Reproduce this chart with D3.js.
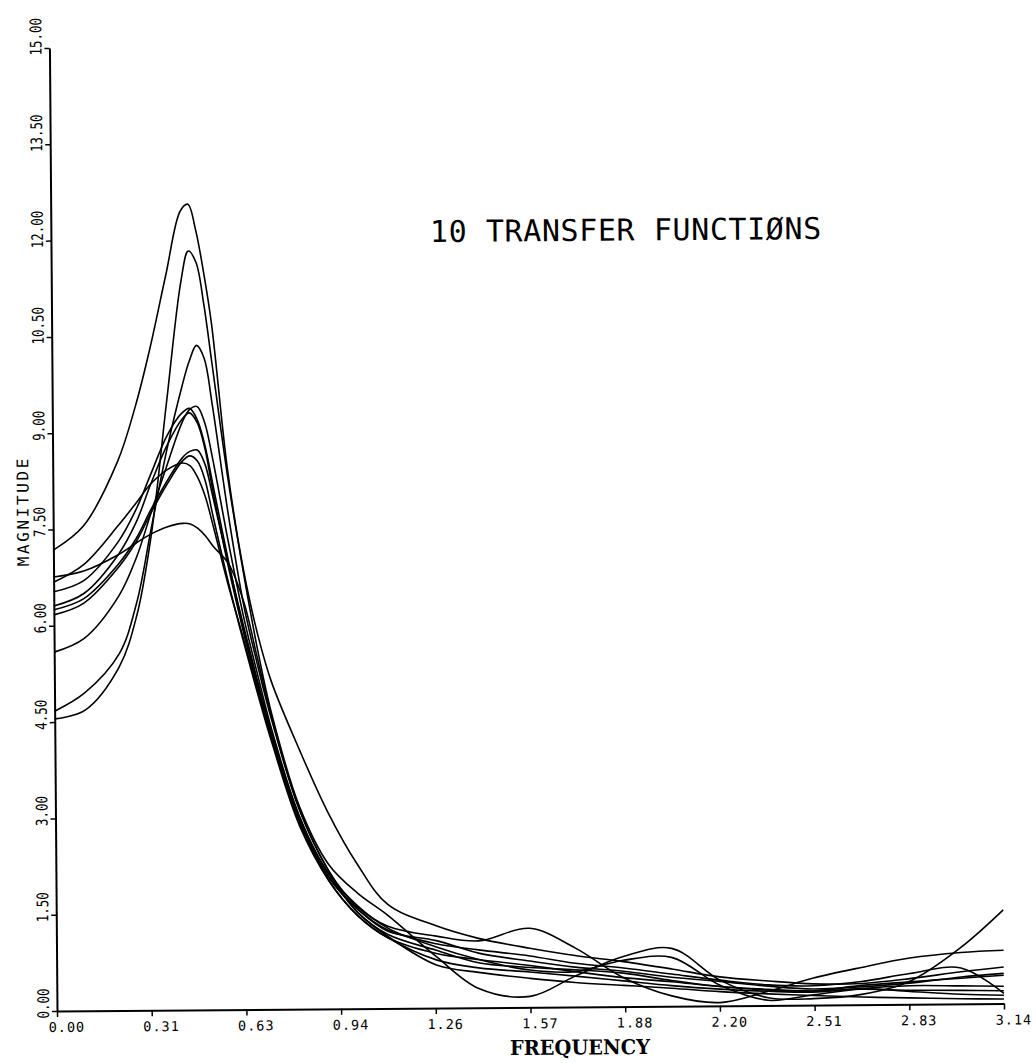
<!DOCTYPE html>
<html>
<head>
<meta charset="utf-8">
<script src="https://cdn.jsdelivr.net/npm/d3@7"></script>
<style>
  html, body { margin: 0; padding: 0; background: #fff; }
  svg { display: block; }
</style>
</head>
<body>
<script>
// ---------- data ----------
const freq = [0, 0.1, 0.215, 0.275, 0.325, 0.38, 0.43, 0.455, 0.48, 0.505, 0.53, 0.58, 0.63, 0.675, 0.72, 0.81, 0.905, 1.0, 1.1, 1.26, 1.4, 1.57, 1.72, 1.88, 2.04, 2.2, 2.36, 2.51, 2.67, 2.83, 3.0, 3.14159];

const tf1  = [7.18, 7.55, 8.55, 9.40, 10.30, 11.45, 12.45, 12.55, 12.15, 11.50, 10.70, 8.40, 6.85, 5.85, 5.10, 4.05, 3.05, 2.25, 1.62, 1.28, 1.08, 0.92, 0.80, 0.70, 0.58, 0.45, 0.38, 0.33, 0.33, 0.40, 0.50, 0.57];
const tf2  = [4.55, 4.68, 5.35, 6.15, 7.40, 9.50, 11.35, 11.82, 11.65, 11.00, 10.10, 8.30, 6.80, 5.60, 4.60, 3.15, 2.25, 1.80, 1.45, 0.80, 0.30, 0.17, 0.48, 0.78, 0.90, 0.40, 0.12, 0.10, 0.16, 0.36, 0.88, 1.46];
const tf3  = [4.67, 4.95, 5.55, 6.35, 7.50, 8.75, 9.70, 10.10, 10.35, 10.15, 9.45, 7.75, 6.30, 5.35, 4.50, 3.10, 2.15, 1.58, 1.28, 1.12, 1.04, 1.23, 0.92, 0.45, 0.16, 0.05, 0.22, 0.42, 0.58, 0.72, 0.80, 0.83];
const tf4  = [5.59, 5.80, 6.45, 7.05, 7.75, 8.50, 9.15, 9.35, 9.40, 9.15, 8.60, 7.30, 6.10, 5.20, 4.35, 3.00, 2.10, 1.60, 1.25, 0.95, 0.75, 0.58, 0.55, 0.72, 0.76, 0.32, 0.08, 0.16, 0.25, 0.29, 0.28, 0.27];
const tf5  = [6.53, 6.70, 7.30, 7.80, 8.35, 8.95, 9.30, 9.37, 9.20, 8.80, 8.20, 7.00, 5.90, 5.05, 4.25, 2.95, 2.05, 1.55, 1.22, 1.00, 0.90, 0.80, 0.68, 0.60, 0.50, 0.40, 0.32, 0.30, 0.36, 0.48, 0.56, 0.16];
const tf6  = [6.31, 6.50, 7.10, 7.60, 8.20, 8.80, 9.20, 9.30, 9.15, 8.75, 8.10, 6.90, 5.85, 5.00, 4.20, 2.90, 2.05, 1.55, 1.20, 1.05, 0.85, 0.72, 0.62, 0.55, 0.45, 0.38, 0.30, 0.25, 0.28, 0.33, 0.42, 0.47];
const tf7  = [6.25, 6.42, 6.95, 7.35, 7.80, 8.25, 8.60, 8.70, 8.72, 8.50, 8.00, 6.95, 5.95, 5.10, 4.30, 2.95, 2.10, 1.50, 1.15, 0.90, 0.70, 0.62, 0.58, 0.52, 0.40, 0.30, 0.24, 0.22, 0.30, 0.35, 0.40, 0.44];
const tf8  = [6.17, 6.35, 6.90, 7.30, 7.75, 8.20, 8.55, 8.63, 8.55, 8.25, 7.70, 6.65, 5.70, 4.90, 4.15, 2.85, 2.00, 1.45, 1.10, 0.85, 0.75, 0.65, 0.55, 0.45, 0.38, 0.30, 0.25, 0.22, 0.24, 0.22, 0.21, 0.20];
const tf9  = [6.68, 6.95, 7.55, 7.90, 8.20, 8.42, 8.52, 8.48, 8.30, 8.00, 7.55, 6.60, 5.75, 4.95, 4.20, 2.90, 2.00, 1.45, 1.10, 0.75, 0.62, 0.55, 0.48, 0.40, 0.32, 0.26, 0.22, 0.20, 0.25, 0.20, 0.15, 0.13];
const tf10 = [6.76, 6.85, 7.10, 7.28, 7.42, 7.53, 7.58, 7.57, 7.50, 7.38, 7.22, 6.95, 6.35, 5.45, 4.55, 3.10, 2.15, 1.50, 1.12, 0.67, 0.55, 0.45, 0.38, 0.33, 0.28, 0.22, 0.18, 0.15, 0.12, 0.10, 0.08, 0.07];

const series = [tf1, tf2, tf3, tf4, tf5, tf6, tf7, tf8, tf9, tf10];

const xTickValues = [0, 0.314159, 0.628319, 0.942478, 1.256637, 1.570796, 1.884956, 2.199115, 2.513274, 2.827433, 3.14159];
const xTickLabels = ["0.00", "0.31", "0.63", "0.94", "1.26", "1.57", "1.88", "2.20", "2.51", "2.83", "3.14"];
const yTickValues = [0, 1.5, 3, 4.5, 6, 7.5, 9, 10.5, 12, 13.5, 15];
const yTickLabels = ["0.00", "1.50", "3.00", "4.50", "6.00", "7.50", "9.00", "10.50", "12.00", "13.50", "15.00"];

const title = "10 TRANSFER FUNCTIØNS";
const xTitle = "FREQUENCY";
const yTitle = "MAGNITUDE";

// ---------- layout ----------
const W = 1036, H = 1063;
const originX = 57, originY = 1011;
const plotW = 947, plotH = 963;
const skew = -0.45; // scanned page is slightly rotated

const svg = d3.select("body").append("svg")
  .attr("width", W).attr("height", H)
  .style("background", "#fff");

const g = svg.append("g")
  .attr("transform", `translate(${originX},${originY}) rotate(${skew})`);

const x = d3.scaleLinear().domain([0, 3.14159]).range([0, plotW]);
const y = d3.scaleLinear().domain([0, 15]).range([0, -plotH]);

const plotFont = "'DejaVu Sans Mono', monospace";

// x axis
const xAxis = g.append("g")
  .call(d3.axisBottom(x)
    .tickValues(xTickValues)
    .tickSize(6)
    .tickSizeOuter(0)
    .tickFormat((d, i) => xTickLabels[i]));
xAxis.select(".domain").attr("stroke", "#000").attr("stroke-width", 2);
xAxis.selectAll(".tick line").attr("stroke", "#000").attr("stroke-width", 1.5);
xAxis.selectAll(".tick text")
  .attr("fill", "#000")
  .attr("x", -9).attr("y", 21).attr("dy", null)
  .attr("text-anchor", "start")
  .style("font-family", plotFont)
  .style("font-size", "13.5px")
  .style("letter-spacing", "1px");

// y axis
const yAxis = g.append("g")
  .call(d3.axisLeft(y)
    .tickValues(yTickValues)
    .tickSize(5)
    .tickSizeOuter(0)
    .tickFormat((d, i) => yTickLabels[i]));
yAxis.select(".domain").attr("stroke", "#000").attr("stroke-width", 2);
yAxis.selectAll(".tick line").attr("stroke", "#000").attr("stroke-width", 1.5);
yAxis.selectAll(".tick text")
  .attr("fill", "#000")
  .attr("x", null).attr("dy", null)
  .attr("text-anchor", "start")
  .attr("transform", "translate(-8,7) rotate(-90) scale(0.78,1)")
  .style("font-family", plotFont)
  .style("font-size", "16px");

// curves
const line = d3.line()
  .x((d, i) => x(freq[i]))
  .y(d => y(d))
  .curve(d3.curveCatmullRom.alpha(0.5));

g.append("g").selectAll("path")
  .data(series)
  .join("path")
  .attr("d", line)
  .attr("fill", "none")
  .attr("stroke", "#000")
  .attr("stroke-width", 1.6);

// title
g.append("text")
  .attr("x", 379).attr("y", -766)
  .style("font-family", plotFont)
  .style("font-size", "30px")
  .style("letter-spacing", "0.6px")
  .attr("fill", "#000")
  .text(title);

// axis titles
g.append("text")
  .attr("transform", "translate(452.6,47.6)")
  .attr("textLength", 140)
  .attr("lengthAdjust", "spacingAndGlyphs")
  .style("font-family", "'DejaVu Serif', 'Liberation Serif', serif")
  .style("font-weight", "bold")
  .style("font-size", "20.5px")
  .attr("fill", "#000")
  .text(xTitle);

g.append("text")
  .attr("transform", "translate(-24.5,-445) rotate(-90)")
  .style("font-family", plotFont)
  .style("font-size", "16px")
  .style("letter-spacing", "2.6px")
  .attr("fill", "#000")
  .text(yTitle);
</script>
</body>
</html>
